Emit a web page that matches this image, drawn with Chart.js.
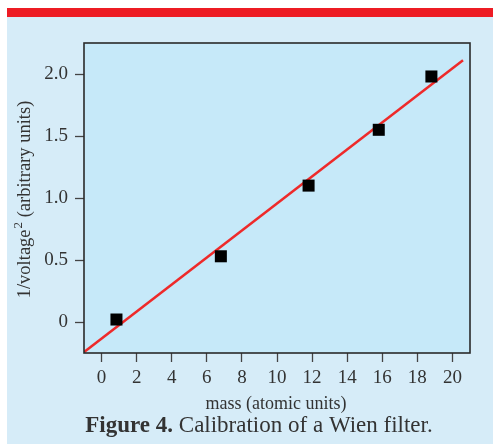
<!DOCTYPE html>
<html>
<head>
<meta charset="utf-8">
<script src="https://cdn.jsdelivr.net/npm/chart.js@4"></script>
<style>
  html, body { margin: 0; padding: 0; background: #fff; }
  #wrap { width: 493px; height: 444px; }
</style>
</head>
<body>
<div id="wrap"><canvas id="wien"></canvas></div>
<script>
// measured points
const massValues = [0.85, 6.8, 11.8, 15.8, 18.8];
const invVoltageSq = [0.02, 0.53, 1.10, 1.55, 1.98];

// fitted calibration line (end points as read)
const fitMass = [-1, 20.6];
const fitValue = [-0.243, 2.11];

const xTicks = [0, 2, 4, 6, 8, 10, 12, 14, 16, 18, 20];
const yTicks = [0, 0.5, 1.0, 1.5, 2.0];
const yTickLabels = ['0', '0.5', '1.0', '1.5', '2.0'];

const SERIF = '"Liberation Serif", "DejaVu Serif", serif';
const TEXT = '#333';

const framePlugin = {
    id: 'frame',
    beforeDraw(chart) {
        const ctx = chart.ctx;
        const a = chart.chartArea;
        ctx.save();
        // page panel
        ctx.fillStyle = '#d6ecf8';
        ctx.fillRect(7, 17, chart.width - 7, chart.height - 17);
        ctx.fillStyle = '#ed1c24';
        ctx.fillRect(7, 8, chart.width - 7, 9);
        // plot area
        ctx.fillStyle = '#c6e9f9';
        ctx.fillRect(a.left, a.top, a.right - a.left, a.bottom - a.top);
        ctx.restore();
    },
    afterDraw(chart) {
        const ctx = chart.ctx;
        const a = chart.chartArea;
        ctx.save();
        ctx.strokeStyle = '#2a2a2a';
        ctx.lineWidth = 1.6;
        ctx.strokeRect(a.left, a.top, a.right - a.left, a.bottom - a.top);

        // y axis title with superscript
        ctx.fillStyle = TEXT;
        ctx.translate(30, 200);
        ctx.rotate(-Math.PI / 2);
        ctx.textBaseline = 'alphabetic';
        const big = '18.5px ' + SERIF;
        const small = '13px ' + SERIF;
        const p1 = '1/voltage', p2 = '2', p3 = ' (arbitrary units)';
        ctx.font = big;
        const w1 = ctx.measureText(p1).width;
        const w3 = ctx.measureText(p3).width;
        ctx.font = small;
        const w2 = ctx.measureText(p2).width;
        let x = -(w1 + w2 + w3) / 2;
        ctx.font = big;
        ctx.fillText(p1, x, 0);
        x += w1;
        ctx.font = small;
        ctx.fillText(p2, x + 1, -8);
        x += w2 + 1;
        ctx.font = big;
        ctx.fillText(p3, x, 0);
        ctx.restore();

        // x axis title and caption
        ctx.save();
        ctx.fillStyle = TEXT;
        ctx.textAlign = 'center';
        ctx.textBaseline = 'alphabetic';
        ctx.font = '18px ' + SERIF;
        ctx.fillText('mass (atomic units)', 276, 409);
        const c1 = 'Figure 4.', c2 = ' Calibration of a Wien filter.';
        ctx.font = 'bold 23px ' + SERIF;
        const cw1 = ctx.measureText(c1).width;
        ctx.font = '23px ' + SERIF;
        const cw2 = ctx.measureText(c2).width;
        let cx = 259 - (cw1 + cw2) / 2;
        ctx.textAlign = 'left';
        ctx.font = 'bold 23px ' + SERIF;
        ctx.fillText(c1, cx, 432);
        ctx.font = '23px ' + SERIF;
        ctx.fillText(c2, cx + cw1, 432);
        ctx.restore();
    }
};

new Chart(document.getElementById('wien'), {
    type: 'scatter',
    data: {
        datasets: [
            {
                label: 'fit',
                type: 'line',
                data: fitMass.map((m, i) => ({ x: m, y: fitValue[i] })),
                borderColor: '#ee2a2a',
                borderWidth: 2.5,
                pointRadius: 0,
                fill: false,
                order: 2
            },
            {
                label: 'data',
                data: massValues.map((m, i) => ({ x: m, y: invVoltageSq[i] })),
                pointStyle: 'rect',
                pointRadius: 8.5,
                backgroundColor: '#000',
                borderColor: '#000',
                borderWidth: 0,
                order: 1
            }
        ]
    },
    options: {
        responsive: true,
        maintainAspectRatio: false,
        animation: false,
        layout: { padding: { left: 0, top: 43, right: 23, bottom: 0 } },
        plugins: {
            legend: { display: false },
            tooltip: { enabled: false }
        },
        scales: {
            x: {
                type: 'linear',
                min: -1,
                max: 21,
                afterBuildTicks: s => { s.ticks = xTicks.map(v => ({ value: v })); },
                afterFit: s => { s.height = 91; },
                grid: { drawOnChartArea: false, drawTicks: true, tickLength: 9, tickColor: '#444', tickWidth: 1.3 },
                border: { display: false },
                ticks: { color: TEXT, font: { family: SERIF, size: 19 }, padding: 5, maxRotation: 0, callback: v => String(v) }
            },
            y: {
                type: 'linear',
                min: -0.25,
                max: 2.25,
                afterBuildTicks: s => { s.ticks = yTicks.map(v => ({ value: v })); },
                afterFit: s => { s.width = 84; },
                grid: { drawOnChartArea: false, drawTicks: true, tickLength: 9, tickColor: '#444', tickWidth: 1.3 },
                border: { display: false },
                ticks: {
                    color: TEXT, font: { family: SERIF, size: 19 }, padding: 7,
                    callback: v => yTickLabels[yTicks.indexOf(v)]
                }
            }
        }
    },
    plugins: [framePlugin]
});
</script>
</body>
</html>
